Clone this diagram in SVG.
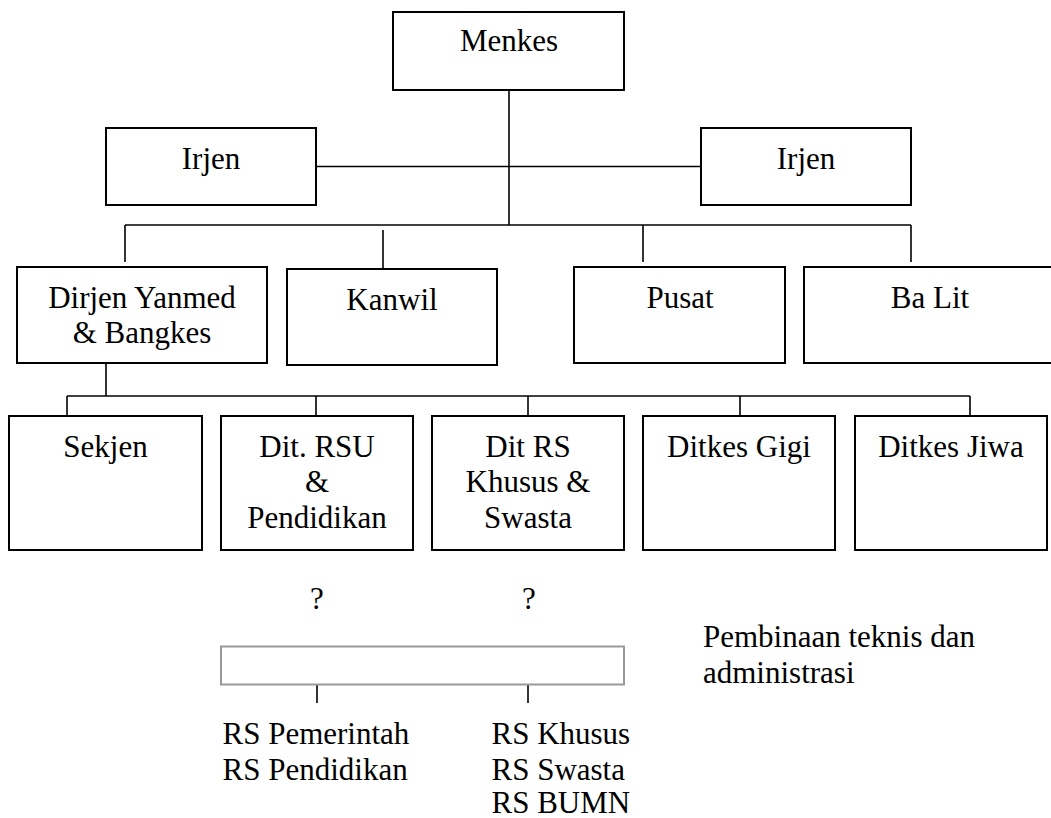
<svg xmlns="http://www.w3.org/2000/svg" width="1051" height="818" viewBox="0 0 1051 818">
<style>
.box{fill:#fff;stroke:#000;stroke-width:2}
.gbox{fill:#fff;stroke:#999;stroke-width:2}
.ln{stroke:#000;stroke-width:1.6;fill:none}
.c{text-anchor:middle}
</style>
<rect width="1051" height="818" fill="#fff"/>
<g id="connectors">
<line class="ln" x1="509" y1="90" x2="509" y2="225"/>
<line class="ln" x1="316" y1="166.5" x2="701" y2="166.5"/>
<line class="ln" x1="125" y1="225" x2="911" y2="225"/>
<line class="ln" x1="125" y1="225" x2="125" y2="262"/>
<line class="ln" x1="383" y1="230" x2="383" y2="268"/>
<line class="ln" x1="643" y1="225" x2="643" y2="262"/>
<line class="ln" x1="911" y1="225" x2="911" y2="262"/>
<line class="ln" x1="106" y1="363" x2="106" y2="396"/>
<line class="ln" x1="67" y1="396" x2="970" y2="396"/>
<line class="ln" x1="67" y1="396" x2="67" y2="416"/>
<line class="ln" x1="316" y1="396" x2="316" y2="416"/>
<line class="ln" x1="528" y1="396" x2="528" y2="416"/>
<line class="ln" x1="740" y1="396" x2="740" y2="416"/>
<line class="ln" x1="970" y1="396" x2="970" y2="416"/>
<line class="ln" x1="317" y1="684" x2="317" y2="703"/>
<line class="ln" x1="528" y1="684" x2="528" y2="703"/>
</g>
<g font-family="Liberation Serif, Times New Roman, serif" font-size="31" fill="#000">
<g id="menkes"><rect class="box" x="393" y="12" width="231" height="78"/><text class="c" x="509" y="51">Menkes</text></g>
<g id="irjen-left"><rect class="box" x="106" y="128" width="210" height="77"/><text class="c" x="211" y="169">Irjen</text></g>
<g id="irjen-right"><rect class="box" x="701" y="128" width="210" height="77"/><text class="c" x="806" y="169">Irjen</text></g>
<g id="dirjen"><rect class="box" x="17" y="267" width="250" height="96"/><text class="c" x="142" y="308">Dirjen Yanmed</text><text class="c" x="142" y="343">&amp; Bangkes</text></g>
<g id="kanwil"><rect class="box" x="287" y="269" width="210" height="96"/><text class="c" x="392" y="310">Kanwil</text></g>
<g id="pusat"><rect class="box" x="574" y="267" width="211" height="96"/><text class="c" x="680" y="308">Pusat</text></g>
<g id="balit"><rect class="box" x="804" y="267" width="252" height="96"/><text class="c" x="930" y="308">Ba Lit</text></g>
<g id="sekjen"><rect class="box" x="9" y="416" width="193" height="134"/><text class="c" x="105.5" y="457">Sekjen</text></g>
<g id="dit-rsu"><rect class="box" x="221" y="416" width="192" height="134"/><text class="c" x="317" y="457">Dit. RSU</text><text class="c" x="317" y="492">&amp;</text><text class="c" x="317" y="528">Pendidikan</text></g>
<g id="dit-rs"><rect class="box" x="432" y="416" width="192" height="134"/><text class="c" x="528" y="457">Dit RS</text><text class="c" x="528" y="492">Khusus &amp;</text><text class="c" x="528" y="528">Swasta</text></g>
<g id="ditkes-gigi"><rect class="box" x="643" y="416" width="192" height="134"/><text class="c" x="739" y="457">Ditkes Gigi</text></g>
<g id="ditkes-jiwa"><rect class="box" x="855" y="416" width="192" height="134"/><text class="c" x="951" y="457">Ditkes Jiwa</text></g>
<g id="q-left"><text class="c" x="317" y="609">?</text></g>
<g id="q-right"><text class="c" x="529" y="609">?</text></g>
<g id="bar"><rect class="gbox" x="221" y="646.5" width="403" height="38"/></g>
<g id="pembinaan"><text x="703" y="647">Pembinaan teknis dan</text><text x="703" y="683">administrasi</text></g>
<g id="rs-left"><text x="222.5" y="744">RS Pemerintah</text><text x="222.5" y="780">RS Pendidikan</text></g>
<g id="rs-right"><text x="491.5" y="744">RS Khusus</text><text x="491.5" y="780">RS Swasta</text><text x="491.5" y="813">RS BUMN</text></g>
</g>
</svg>
